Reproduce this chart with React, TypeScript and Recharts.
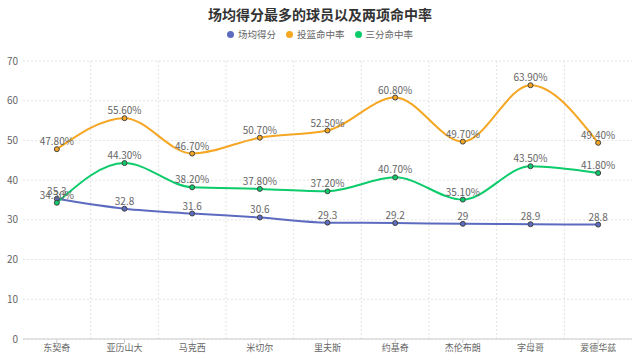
import React from "react";
import { LineChart, Line, XAxis, YAxis, CartesianGrid, LabelList } from "recharts";

const players = ["东契奇", "亚历山大", "马克西", "米切尔", "里夫斯", "约基奇", "杰伦布朗", "字母哥", "爱德华兹"];
const points = [35.3, 32.8, 31.6, 30.6, 29.3, 29.2, 29, 28.9, 28.8];
const fgPct = [47.8, 55.6, 46.7, 50.7, 52.5, 60.8, 49.7, 63.9, 49.4];
const threePct = [34.3, 44.3, 38.2, 37.8, 37.2, 40.7, 35.1, 43.5, 41.8];
const yTicks = [0, 10, 20, 30, 40, 50, 60, 70];

const series = [
  { key: "pts", name: "场均得分", color: "#5c6bc0", pct: false },
  { key: "fg", name: "投篮命中率", color: "#f5a623", pct: true },
  { key: "three", name: "三分命中率", color: "#0bcb6b", pct: true },
];

const data = players.map((name, i) => ({
  name,
  pts: points[i],
  fg: fgPct[i],
  three: threePct[i],
}));

const FONT = '"Noto Sans CJK SC", "Microsoft YaHei", sans-serif';

export default function App() {
  return (
    <div style={{ position: "relative", width: 640, height: 361, background: "#fff", fontFamily: FONT }}>
      <style>{"body{margin:0}"}</style>
      <div
        style={{
          position: "absolute",
          top: 3,
          left: 0,
          width: 640,
          textAlign: "center",
          fontSize: 14,
          fontWeight: "bold",
          color: "#333",
          lineHeight: "22px",
        }}
      >
        场均得分最多的球员以及两项命中率
      </div>
      <div
        style={{
          position: "absolute",
          top: 27,
          left: 0,
          width: 640,
          display: "flex",
          justifyContent: "center",
          gap: 10,
          fontSize: 9.5,
          color: "#666",
          lineHeight: "14px",
        }}
      >
        {series.map((s) => (
          <span key={s.key} style={{ display: "flex", alignItems: "center" }}>
            <span
              style={{
                display: "inline-block",
                width: 7,
                height: 7,
                borderRadius: "50%",
                background: s.color,
                marginRight: 4,
              }}
            />
            {s.name}
          </span>
        ))}
      </div>
      <LineChart
        width={640}
        height={361}
        data={data}
        margin={{ top: 61, right: 8, bottom: 0, left: 0 }}
        style={{ position: "absolute", top: 0, left: 0 }}
      >
        <CartesianGrid
          stroke="#e3e3e3"
          strokeDasharray="2 2"
          verticalCoordinatesGenerator={({ offset }: any) =>
            players.slice(1).map((_, i) => offset.left + (offset.width * (i + 1)) / players.length)
          }
        />
        <XAxis
          dataKey="name"
          scale="band"
          height={22}
          tickSize={4}
          tickMargin={2}
          axisLine={{ stroke: "#ccc" }}
          tickLine={{ stroke: "#ccc" }}
          tick={{ fontSize: 9, fill: "#666", fontFamily: FONT }}
          interval={0}
        />
        <YAxis
          width={23}
          domain={[0, 70]}
          ticks={yTicks}
          axisLine={false}
          tickLine={false}
          tickSize={5}
          tickMargin={0}
          tick={{ fontSize: 10, fill: "#666", fontFamily: FONT }}
        />
        {series.map((s) => (
          <Line
            key={s.key}
            dataKey={s.key}
            name={s.name}
            type="monotone"
            stroke={s.color}
            strokeWidth={2}
            dot={{ r: 2.5, fill: s.color, stroke: "#444", strokeWidth: 1 }}
            isAnimationActive={false}
          >
            <LabelList
              dataKey={s.key}
              position="top"
              offset={4}
              fill="#666"
              fontSize={10}
              fontFamily={FONT}
              formatter={(v: any) => (s.pct ? Number(v).toFixed(2) + "%" : String(v))}
            />
          </Line>
        ))}
      </LineChart>
    </div>
  );
}
